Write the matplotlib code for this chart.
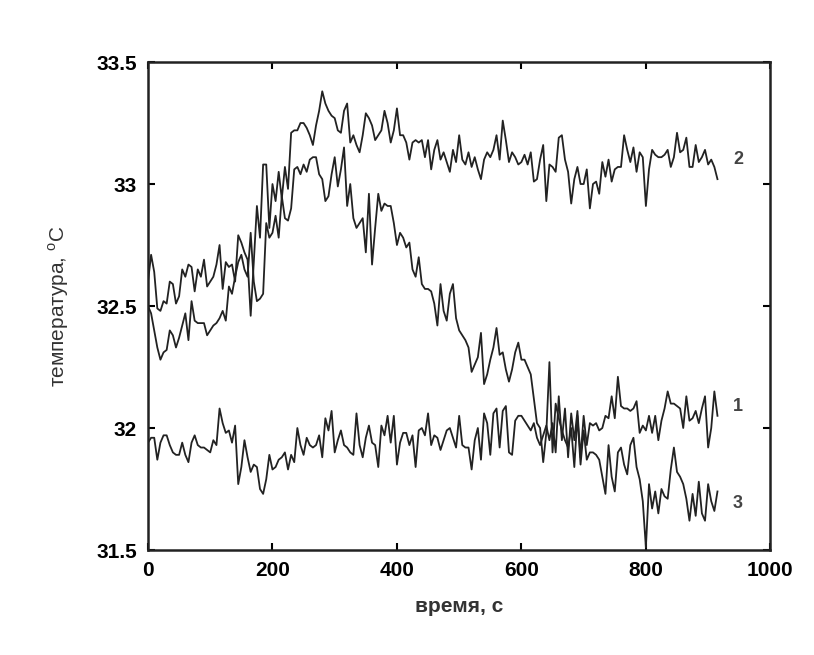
import matplotlib
matplotlib.use("Agg")
import matplotlib.pyplot as plt
import numpy as np

plt.rcParams["font.family"] = ["Liberation Sans", "DejaVu Sans"]
plt.rcParams["mathtext.fontset"] = "custom"
plt.rcParams["mathtext.rm"] = "Liberation Sans"

# sampling step of the records, s
STEP = 5

# curve 2 (upper, stays high)
temp_2 = [
    32.60, 32.71, 32.64, 32.49, 32.48, 32.52, 32.51, 32.60, 32.59, 32.51,
    32.54, 32.65, 32.62, 32.67, 32.66, 32.56, 32.65, 32.62, 32.69, 32.58,
    32.60, 32.62, 32.67, 32.75, 32.57, 32.68, 32.66, 32.67, 32.60, 32.79,
    32.76, 32.72, 32.69, 32.46, 32.68, 32.91, 32.78, 33.08, 33.08, 32.82,
    33.00, 32.93, 33.05, 32.94, 33.07, 32.98, 33.21, 33.22, 33.22, 33.25,
    33.25, 33.23, 33.20, 33.16, 33.24, 33.30, 33.38, 33.33, 33.30, 33.28,
    33.27, 33.22, 33.21, 33.30, 33.33, 33.17, 33.20, 33.16, 33.13, 33.20,
    33.29, 33.27, 33.24, 33.18, 33.20, 33.22, 33.30, 33.25, 33.17, 33.22,
    33.31, 33.20, 33.20, 33.17, 33.10, 33.17, 33.18, 33.17, 33.18, 33.11,
    33.18, 33.06, 33.14, 33.18, 33.10, 33.13, 33.09, 33.05, 33.14, 33.09,
    33.20, 33.10, 33.08, 33.13, 33.07, 33.11, 33.06, 33.02, 33.10, 33.13,
    33.11, 33.14, 33.20, 33.10, 33.26, 33.18, 33.09, 33.13, 33.11, 33.08,
    33.09, 33.12, 33.08, 33.13, 33.01, 33.02, 33.10, 33.16, 32.93, 33.08,
    33.07, 33.05, 33.19, 33.20, 33.10, 33.05, 32.92, 33.02, 33.07, 33.00,
    33.00, 33.06, 32.90, 33.00, 33.01, 32.96, 33.09, 33.03, 33.10, 33.01,
    33.06, 33.07, 33.07, 33.20, 33.14, 33.09, 33.15, 33.05, 33.13, 33.11,
    32.91, 33.06, 33.14, 33.12, 33.11, 33.11, 33.12, 33.14, 33.07, 33.11,
    33.21, 33.13, 33.14, 33.19, 33.07, 33.07, 33.16, 33.09, 33.11, 33.14,
    33.08, 33.10, 33.07, 33.02,
]

# curve 3 (rises to a peak near 300 s, then falls)
temp_3 = [
    32.50, 32.47, 32.40, 32.33, 32.28, 32.31, 32.32, 32.40, 32.38, 32.33,
    32.37, 32.42, 32.47, 32.36, 32.52, 32.44, 32.43, 32.43, 32.43, 32.38,
    32.40, 32.42, 32.43, 32.45, 32.48, 32.44, 32.58, 32.55, 32.62, 32.68,
    32.71, 32.65, 32.62, 32.80, 32.60, 32.52, 32.53, 32.55, 32.84, 32.78,
    32.80, 32.87, 32.78, 32.95, 32.86, 32.85, 32.90, 33.06, 33.07, 33.04,
    33.08, 33.05, 33.10, 33.11, 33.11, 33.04, 33.02, 32.93, 32.95, 33.04,
    33.11, 32.99, 33.06, 33.15, 32.91, 33.00, 32.86, 32.82, 32.84, 32.86,
    32.72, 32.96, 32.67, 32.82, 32.96, 32.89, 32.92, 32.91, 32.91, 32.84,
    32.75, 32.80, 32.78, 32.74, 32.76, 32.65, 32.62, 32.70, 32.59, 32.57,
    32.57, 32.56, 32.51, 32.42, 32.59, 32.48, 32.44, 32.55, 32.59, 32.45,
    32.40, 32.38, 32.36, 32.33, 32.23, 32.26, 32.29, 32.39, 32.18, 32.22,
    32.28, 32.33, 32.41, 32.30, 32.31, 32.24, 32.19, 32.24, 32.31, 32.35,
    32.28, 32.28, 32.25, 32.22, 32.12, 32.02, 32.00, 31.86, 31.98, 32.27,
    31.90, 32.10, 32.04, 31.99, 31.95, 31.92, 32.00, 31.84, 32.05, 31.85,
    31.99, 31.87, 31.90, 31.90, 31.89, 31.87, 31.80, 31.73, 31.93, 31.80,
    31.74, 31.90, 31.92, 31.85, 31.81, 31.93, 31.96, 31.84, 31.79, 31.70,
    31.51, 31.77, 31.67, 31.74, 31.65, 31.75, 31.72, 31.71, 31.83, 31.92,
    31.82, 31.80, 31.77, 31.71, 31.62, 31.73, 31.64, 31.78, 31.65, 31.62,
    31.77, 31.70, 31.66, 31.74,
]

# curve 1 (lower, nearly flat)
temp_1 = [
    31.94, 31.96, 31.96, 31.87, 31.94, 31.97, 31.97, 31.93, 31.90, 31.89,
    31.89, 31.94, 31.89, 31.86, 31.94, 31.97, 31.93, 31.92, 31.92, 31.91,
    31.90, 31.95, 31.93, 32.08, 32.02, 31.98, 31.99, 31.94, 32.01, 31.77,
    31.84, 31.95, 31.88, 31.82, 31.85, 31.84, 31.75, 31.73, 31.79, 31.89,
    31.83, 31.84, 31.87, 31.88, 31.90, 31.83, 31.89, 31.86, 32.00, 31.93,
    31.89, 31.96, 31.93, 31.92, 31.93, 31.97, 31.88, 32.04, 31.99, 32.07,
    31.90, 31.95, 31.99, 31.93, 31.92, 31.90, 31.89, 32.06, 31.93, 31.88,
    31.96, 32.01, 31.94, 31.93, 31.84, 32.01, 31.97, 32.05, 31.94, 32.05,
    31.85, 31.94, 31.98, 31.98, 31.93, 31.97, 31.84, 31.99, 32.00, 31.97,
    32.06, 31.93, 31.97, 31.96, 31.91, 31.95, 31.99, 32.00, 31.96, 31.92,
    32.05, 31.93, 31.92, 31.92, 31.83, 31.95, 32.00, 31.87, 32.06, 32.02,
    31.89, 32.06, 32.08, 31.92, 32.07, 32.09, 31.90, 31.89, 32.03, 32.05,
    32.05, 32.03, 32.01, 31.99, 32.02, 31.96, 31.93, 31.97, 32.01, 31.95,
    32.02, 31.90, 32.13, 31.95, 32.08, 31.88, 32.06, 31.95, 32.07, 31.88,
    32.05, 31.93, 32.02, 32.01, 32.02, 31.99, 32.00, 32.05, 32.04, 32.13,
    32.04, 32.21, 32.09, 32.08, 32.08, 32.07, 32.08, 32.11, 31.98, 32.01,
    31.99, 32.05, 31.98, 32.05, 31.95, 32.03, 32.08, 32.15, 32.10, 32.10,
    32.09, 32.08, 32.00, 32.13, 32.03, 32.04, 32.07, 32.02, 32.08, 32.13,
    31.92, 32.00, 32.15, 32.05,
]

curve_labels = ["2", "1", "3"]
label_pos = [(948, 33.10), (948, 32.09), (948, 31.69)]

x_ticks = [0, 200, 400, 600, 800, 1000]
y_ticks = [31.5, 32, 32.5, 33, 33.5]

fig = plt.figure(figsize=(8.14, 6.55), dpi=100)
ax = fig.add_axes([0.1818, 0.1603, 0.7646, 0.745])

line_color = "#222222"
for series in (temp_2, temp_3, temp_1):
    t = np.arange(len(series)) * STEP
    ax.plot(t, series, color=line_color, lw=1.3)

for txt, (lx, ly) in zip(curve_labels, label_pos):
    ax.text(lx, ly, txt, fontsize=13, fontweight="bold", color="#444444",
            ha="center", va="center")

ax.set_xlim(0, 1000)
ax.set_ylim(31.5, 33.5)
ax.set_xticks(x_ticks)
ax.set_yticks(y_ticks)
ax.set_yticklabels([f"{v:g}" for v in y_ticks])
ax.tick_params(direction="in", length=5, width=1.5, top=True, right=True,
               labelsize=15, pad=8)
for lab in ax.get_xticklabels() + ax.get_yticklabels():
    lab.set_fontweight("bold")
for sp in ax.spines.values():
    sp.set_linewidth(1.8)
    sp.set_color("#222222")

ax.set_xlabel("время, с", fontsize=15, fontweight="bold", color="#333333",
              labelpad=12)
ax.set_ylabel(r"температура, $^{\mathrm{o}}$C", fontsize=15, color="#333333",
              labelpad=18)

fig.savefig("out.png", dpi=100)
